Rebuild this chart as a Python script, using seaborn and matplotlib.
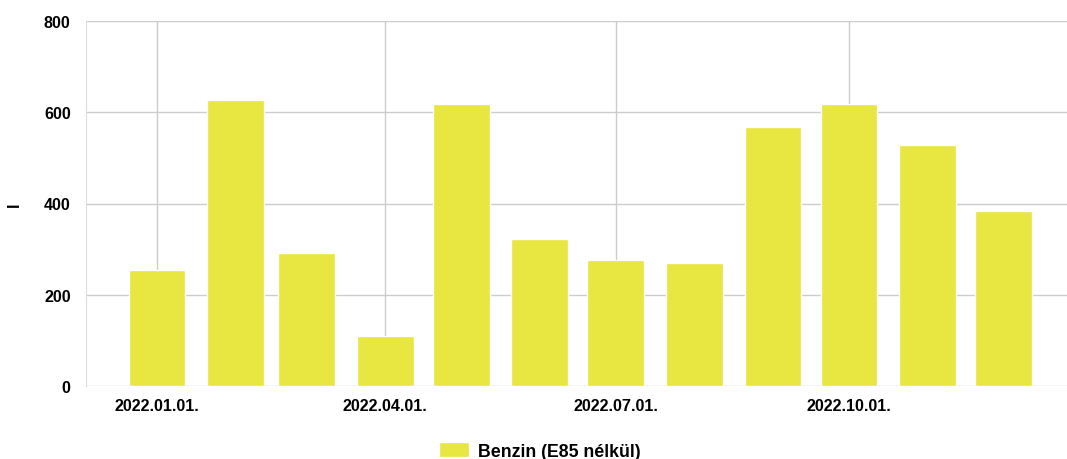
import pandas as pd
import matplotlib.pyplot as plt
import matplotlib.dates as mdates
from matplotlib import font_manager
import seaborn as sns

# Monthly values (litres)
months = ['2022-01-01', '2022-02-01', '2022-03-01', '2022-04-01', '2022-05-01', '2022-06-01',
          '2022-07-01', '2022-08-01', '2022-09-01', '2022-10-01', '2022-11-01', '2022-12-01']
benzin = [254, 627, 291, 110, 618, 322, 276, 270, 567, 619, 528, 383]
series_name = 'Benzin (E85 nélkül)'
tick_dates = ['2022-01-01', '2022-04-01', '2022-07-01', '2022-10-01']

df = pd.DataFrame({'date': pd.to_datetime(months), 'value': benzin})
df['x'] = mdates.date2num(df['date'])

sns.set_style("white")

# pick the regular-width Liberation Sans Bold file (not the Narrow one)
bold_file = None
for f in font_manager.findSystemFonts():
    if f.endswith('LiberationSans-Bold.ttf'):
        bold_file = f
        break
if bold_file:
    font_manager.fontManager.addfont(bold_file)
    fam = font_manager.FontProperties(fname=bold_file).get_name()
else:
    fam = 'DejaVu Sans'
plt.rcParams['font.family'] = [fam, 'DejaVu Sans']
plt.rcParams['font.weight'] = 'bold'
for k in ['text.color', 'axes.labelcolor', 'xtick.color', 'ytick.color']:
    plt.rcParams[k] = 'black'

def fp(size):
    if bold_file:
        return font_manager.FontProperties(fname=bold_file, size=size)
    return font_manager.FontProperties(weight='bold', size=size)

fig = plt.figure(figsize=(10.67, 4.6), dpi=100)
ax = fig.add_axes([86 / 1067, 73 / 460, 1 - 86 / 1067, 365 / 460])

sns.barplot(data=df, x='x', y='value', native_scale=True, color='#e8e640',
            saturation=1, width=0.8, ax=ax, label=series_name, zorder=3)

ax.set_xlim(mdates.date2num(pd.Timestamp('2021-12-04')), mdates.date2num(pd.Timestamp('2022-12-26')))
ax.set_ylim(0, 800)
ax.set_yticks([0, 200, 400, 600, 800])
ax.set_xticks(mdates.date2num(pd.to_datetime(tick_dates)))
ax.xaxis.set_major_formatter(mdates.DateFormatter('%Y.%m.%d.'))

ax.grid(True, color='#cccccc', linewidth=1, zorder=0)
for s in ['top', 'right', 'bottom']:
    ax.spines[s].set_visible(False)
ax.spines['left'].set_color('#dddddd')
ax.tick_params(axis='y', length=8, color='#cccccc', pad=3)
ax.tick_params(axis='x', length=4, color='#cccccc', pad=5)
fig.canvas.draw()
for lbl in ax.get_xticklabels() + ax.get_yticklabels():
    lbl.set_fontproperties(fp(11.6))
    lbl.set_color('black')

ax.set_xlabel('')
ax.set_ylabel('l', fontproperties=fp(12), color='black')
ax.yaxis.set_label_coords(-0.065, 0.5)

if ax.get_legend():
    ax.get_legend().remove()
handles, labels = ax.get_legend_handles_labels()
leg = fig.legend(handles, labels, loc='center', bbox_to_anchor=(0.5056, 0.0174), frameon=False,
                 handlelength=1.7, handleheight=0.85, handletextpad=0.5, prop=fp(12.8))
for t in leg.get_texts():
    t.set_color('black')

fig.savefig('out.png', dpi=100)
